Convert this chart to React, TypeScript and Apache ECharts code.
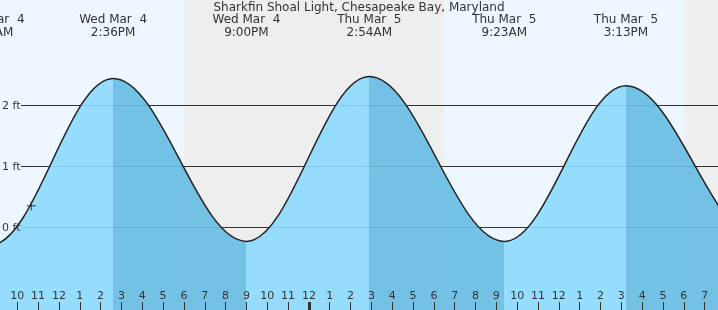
import React, { useEffect, useRef } from 'react';
import * as echarts from 'echarts';

const TITLE = 'Sharkfin Shoal Light, Chesapeake Bay, Maryland';

// Tide extremes, hours counted from Wed Mar 4 00:00 (first and last are just outside the view)
const eventHours = [2.3, 8.72, 14.6, 21.0, 26.9, 33.38, 39.22, 45.75, 52.0];
const eventHeights = [2.3, -0.28, 2.44, -0.22, 2.47, -0.22, 2.32, -0.23, 2.3];
const eventDates = ['Wed Mar  4', 'Wed Mar  4', 'Wed Mar  4', 'Wed Mar  4', 'Thu Mar  5', 'Thu Mar  5', 'Thu Mar  5', 'Thu Mar  5', 'Fri Mar  6'];
const eventTimes = ['2:18AM', '8:43AM', '2:36PM', '9:00PM', '2:54AM', '9:23AM', '3:13PM', '9:45PM', '4:00AM'];

// Night bands (sunset -> sunrise), hours
const nightStarts = [18.0, 42.0];
const nightEnds = [30.48, 54.5];

// Hour ticks along the bottom
const hourTicks = [10, 11, 12, 13, 14, 15, 16, 17, 18, 19, 20, 21, 22, 23, 24, 25, 26, 27, 28, 29, 30, 31, 32, 33, 34, 35, 36, 37, 38, 39, 40, 41, 42, 43];
const midnightTicks = [24];

// Height reference lines
const heightTicks = [0, 1, 2];
const heightLabels = ['0 ft', '1 ft', '2 ft'];

// Current-time marker
const nowHour = [10.67];
const nowHeight = [0.36];

const X_MIN = 9.17;
const X_MAX = 43.64;
const Y_MIN = -1.34;
const Y_MAX = 3.72;

const DAY = '#EEF7FF';
const NIGHT = '#EEEEEE';
const RISE = '#8CDAFF';
const FALL = '#66BCE3';
const INK = '#333333';
const FONT = '"DejaVu Sans", sans-serif';

export default function App() {
  const ref = useRef<HTMLDivElement>(null);
  useEffect(() => {
    const chart = echarts.init(ref.current as HTMLDivElement, null, { renderer: 'svg' });
    const pieces: any[] = [];
    for (let i = 0; i < eventHours.length - 1; i++) {
      const rising = eventHeights[i + 1] > eventHeights[i];
      pieces.push({ gte: eventHours[i], lt: eventHours[i + 1], color: rising ? RISE : FALL });
    }
    const hourFmt = (v: number) => {
      const h = Math.round(v) % 12;
      return String(h === 0 ? 12 : h);
    };
    chart.setOption({
      animation: false,
      title: {
        text: TITLE,
        left: 'center',
        top: 1,
        padding: 0,
        textStyle: { fontSize: 12, lineHeight: 12, fontWeight: 'normal', color: INK, fontFamily: FONT },
      },
      grid: { left: 0, right: 0, top: 0, bottom: 0 },
      xAxis: [
        {
          type: 'value', min: X_MIN, max: X_MAX, position: 'bottom', z: 10,
          axisLine: { show: false, onZero: false }, splitLine: { show: false },
          axisTick: { show: true, inside: true, length: 8, customValues: hourTicks, lineStyle: { color: INK, width: 1 } },
          axisLabel: { show: true, inside: true, margin: 9, customValues: hourTicks, formatter: hourFmt, color: INK, fontSize: 11, fontFamily: FONT },
        },
        {
          type: 'value', min: X_MIN, max: X_MAX, position: 'bottom', z: 11,
          axisLine: { show: false, onZero: false }, splitLine: { show: false }, axisLabel: { show: false },
          axisTick: { show: true, inside: true, length: 8, customValues: midnightTicks, lineStyle: { color: INK, width: 3 } },
        },
      ],
      yAxis: { type: 'value', min: Y_MIN, max: Y_MAX, show: false },
      visualMap: { show: false, type: 'piecewise', dimension: 0, seriesIndex: 0, pieces },
      series: [
        {
          type: 'line',
          data: eventHours.map((h, i) => [h, eventHeights[i]]),
          smooth: 0.363,
          smoothMonotone: 'x',
          showSymbol: false,
          symbol: 'none',
          lineStyle: { color: '#222', width: 1.5 },
          areaStyle: { origin: 'start', opacity: 0.9 },
          z: 2,
        },
      ],
    });

    const px = (h: number, v: number) => chart.convertToPixel({ xAxisIndex: 0, yAxisIndex: 0 }, [h, v]) as number[];
    const W = chart.getWidth();
    const H = chart.getHeight();
    const g: any[] = [];
    g.push({ type: 'rect', z: -5, silent: true, shape: { x: 0, y: 0, width: W, height: H }, style: { fill: DAY } });
    nightStarts.forEach((s, i) => {
      const x0 = px(s, 0)[0];
      const x1 = px(nightEnds[i], 0)[0];
      g.push({ type: 'rect', z: -4, silent: true, shape: { x: x0, y: 0, width: x1 - x0, height: H }, style: { fill: NIGHT } });
    });
    heightTicks.forEach((v, i) => {
      const y = Math.floor(px(X_MIN, v)[1]) + 0.5;
      g.push({ type: 'line', z: 1, silent: true, shape: { x1: 21, y1: y, x2: W, y2: y }, style: { stroke: INK, lineWidth: 1 } });
      g.push({ type: 'text', z: 10, silent: true, x: 2, y: y, style: { text: heightLabels[i], fill: INK, font: `11px ${FONT}`, lineHeight: 11, textAlign: 'left', textVerticalAlign: 'middle' } });
    });
    eventHours.forEach((h, i) => {
      const x = px(h, 0)[0];
      if (x < -40 || x > W + 40) return;
      g.push({ type: 'text', z: 10, silent: true, x, y: 19, style: { text: eventDates[i], fill: INK, font: `12px ${FONT}`, lineHeight: 12, textAlign: 'center', textVerticalAlign: 'middle' } });
      g.push({ type: 'text', z: 10, silent: true, x, y: 31.5, style: { text: eventTimes[i], fill: INK, font: `12px ${FONT}`, lineHeight: 12, textAlign: 'center', textVerticalAlign: 'middle' } });
    });
    nowHour.forEach((h, i) => {
      const [cx, cy] = px(h, nowHeight[i]);
      g.push({ type: 'line', z: 12, silent: true, shape: { x1: cx - 4.5, y1: cy, x2: cx + 4.5, y2: cy }, style: { stroke: INK, lineWidth: 1 } });
      g.push({ type: 'line', z: 12, silent: true, shape: { x1: cx, y1: cy - 4.5, x2: cx, y2: cy + 4.5 }, style: { stroke: INK, lineWidth: 1 } });
    });
    chart.setOption({ graphic: g });

    return () => chart.dispose();
  }, []);
  return <div ref={ref} style={{ position: 'fixed', left: 0, top: 0, width: 718, height: 310 }} />;
}
